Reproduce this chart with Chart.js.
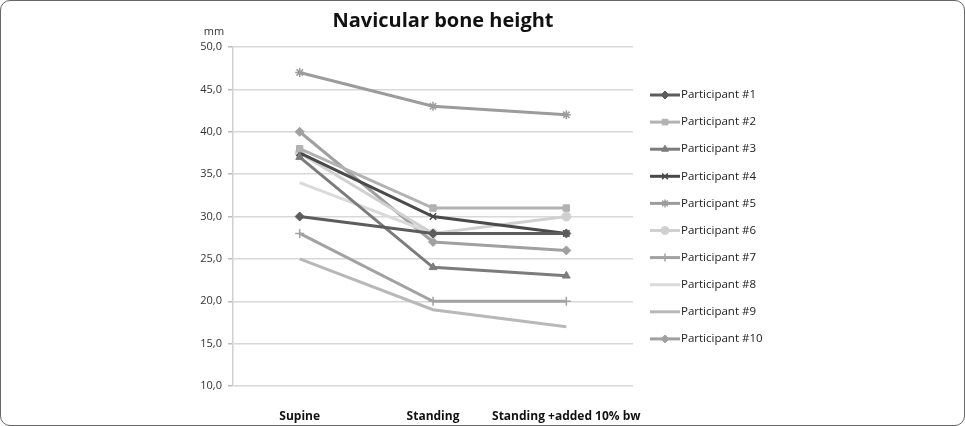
<!DOCTYPE html>
<html><head><meta charset="utf-8">
<script src="https://cdn.jsdelivr.net/npm/chart.js@4/dist/chart.umd.min.js"></script>
<style>
html,body{margin:0;padding:0;background:#fff;}
#wrap{position:relative;width:965px;height:426px;box-sizing:border-box;border:1px solid #666;border-radius:10px;overflow:hidden;}
canvas{position:absolute;left:-1px;top:-1px;}
</style></head>
<body><div id="wrap"><canvas id="c" width="965" height="426"></canvas></div>
<script>
const categories = ["Supine", "Standing", "Standing +added 10% bw"];
const seriesNames = ["Participant #1","Participant #2","Participant #3","Participant #4","Participant #5","Participant #6","Participant #7","Participant #8","Participant #9","Participant #10"];
const p1 = [30, 28, 28];
const p2 = [38, 31, 31];
const p3 = [37, 24, 23];
const p4 = [37.5, 30, 28];
const p5 = [47, 43, 42];
const p6 = [37.5, 28, 30];
const p7 = [28, 20, 20];
const p8 = [34, 28, 28];
const p9 = [25, 19, 17];
const p10 = [40, 27, 26];
const yTicks = [10, 15, 20, 25, 30, 35, 40, 45, 50];

const values = [p1,p2,p3,p4,p5,p6,p7,p8,p9,p10];
const colors = ["#5c5c5c","#b2b2b2","#7c7c7c","#4a4a4a","#9c9c9c","#d0d0d0","#a2a2a2","#dadada","#b8b8b8","#a0a0a0"];
const markers = ["rectRot","rect","triangle","crossRot","star","circle","cross",false,false,"rectRot"];

const datasets = values.map((v,i)=>({
  label: seriesNames[i], data: v, borderColor: colors[i], backgroundColor: colors[i],
  borderWidth: 3, pointStyle: markers[i], pointRadius: markers[i] ? 4.5 : 0,
  pointBorderWidth: (markers[i]==="crossRot"||markers[i]==="star"||markers[i]==="cross") ? 1.5 : 1,
  tension: 0
}));

const decor = {
  id:'decor',
  afterDraw(chart){
    const ctx = chart.ctx;
    ctx.save();
    ctx.fillStyle = '#111';
    ctx.textAlign = 'center'; ctx.textBaseline = 'middle';
    ctx.font = 'bold 20px "Open Sans", sans-serif';
    ctx.fillText('Navicular bone height', 443, 21);
    ctx.font = '11px "Open Sans", sans-serif';
    ctx.fillStyle = '#333';
    ctx.fillText('mm', 214, 32);
    // legend
    const x0 = 650, y0 = 95, step = 27.1;
    chart.data.datasets.forEach((ds,i)=>{
      const y = y0 + i*step;
      ctx.strokeStyle = ds.borderColor; ctx.lineWidth = 3;
      ctx.beginPath(); ctx.moveTo(x0, y); ctx.lineTo(x0+30, y); ctx.stroke();
      if (ds.pointStyle) {
        ctx.fillStyle = ds.backgroundColor; ctx.strokeStyle = ds.borderColor;
        ctx.lineWidth = ds.pointBorderWidth;
        Chart.helpers.drawPoint(ctx, {pointStyle: ds.pointStyle, radius: 4, borderWidth: ds.pointBorderWidth, rotation: 0}, x0+15, y);
      }
      ctx.fillStyle = '#222';
      ctx.textAlign = 'left';
      ctx.font = '11.5px "Open Sans", sans-serif';
      ctx.fillText(ds.label, x0+31, y);
    });
    ctx.restore();
  }
};

new Chart(document.getElementById('c'), {
  type: 'line',
  data: { labels: categories, datasets },
  options: {
    responsive: false, animation: false,
    layout: { padding: { left: 0, right: 332, top: 47, bottom: 0 } },
    plugins: { legend: { display: false }, title: { display: false }, tooltip: { enabled: false } },
    scales: {
      x: {
        offset: true,
        grid: { display: false, drawTicks: false },
        border: { display: false },
        ticks: { padding: 23, color: '#111', font: { family: '"Open Sans", sans-serif', size: 12, weight: 'bold' }, maxRotation: 0, autoSkip: false },
        afterFit(s){ s.height = 40; }
      },
      y: {
        min: 10, max: 50,
        afterBuildTicks(s){ s.ticks = yTicks.map(v=>({value:v})); },
        grid: { color: '#d8d8d8', lineWidth: 1.5, tickLength: 5, tickColor: '#bbb' },
        border: { display: true, color: '#d0d0d0', width: 1.5 },
        ticks: { padding: 6, color: '#333', font: { family: '"Open Sans", sans-serif', size: 11 },
          callback: v => v.toFixed(1).replace('.', ',') },
        afterFit(s){ s.width = 233; }
      }
    }
  },
  plugins: [decor]
});
</script></body></html>
